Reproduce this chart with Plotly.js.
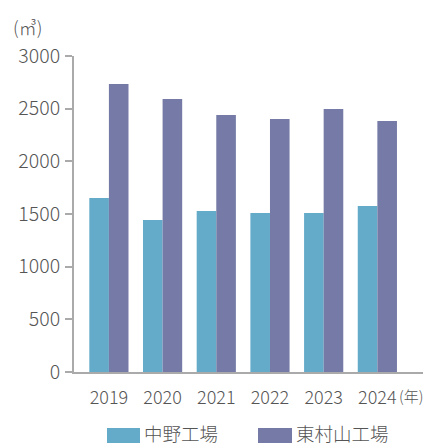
<!DOCTYPE html>
<html><head><meta charset="utf-8">
<script src="https://cdn.plot.ly/plotly-3.0.1.min.js"></script>
<style>body{margin:0;background:#fff}#c{width:425px;height:443px}</style>
</head><body><div id="c"></div>
<script>
const years = ['2019','2020','2021','2022','2023','2024'];
const nakano = [1652, 1443, 1528, 1510, 1510, 1576];
const higashimurayama = [2734, 2592, 2440, 2402, 2497, 2383];
const seriesNames = ['中野工場','東村山工場'];
const colors = ['#64abca','#757aa6'];
const yTicks = [0,500,1000,1500,2000,2500,3000];

const FONT = '"Noto Sans CJK JP", "Noto Sans", sans-serif';
const TXT = '#555';
const WT = 300;
const data = [
  {type:'bar', x: years, y: nakano, name: seriesNames[0], marker:{color:colors[0]}},
  {type:'bar', x: years, y: higashimurayama, name: seriesNames[1], marker:{color:colors[1]}}
];
const W = 425 - 74 - 2, H = 443 - 56 - 71;
const px = v => (v - 74) / W;
const py = v => (443 - 71 - v) / H;
const legendShapes = [
  {type:'rect', xref:'paper', yref:'paper', x0:px(107), x1:px(140), y0:py(428), y1:py(444), fillcolor:colors[0], line:{width:0}},
  {type:'rect', xref:'paper', yref:'paper', x0:px(258), x1:px(292), y0:py(428), y1:py(444), fillcolor:colors[1], line:{width:0}}
];
const layout = {
  width:425, height:443,
  margin:{l:74, r:2, t:56, b:71, autoexpand:false},
  paper_bgcolor:'#fff', plot_bgcolor:'#fff',
  font:{family:FONT, color:TXT, size:17, weight:WT},
  barmode:'group', bargap:0.27, bargroupgap:0,
  showlegend:false,
  xaxis:{type:'category', range:[-0.65,5.85], showline:true, linecolor:'#aaa', linewidth:2,
    ticks:'', tickfont:{size:18, color:TXT, weight:WT}, showgrid:false, zeroline:false, ticklabelstandoff:8},
  yaxis:{range:[0,3000], tickvals:yTicks, showline:true, linecolor:'#aaa', linewidth:2,
    ticks:'outside', ticklen:7, tickwidth:2, tickcolor:'#aaa', showgrid:false, zeroline:false,
    tickfont:{size:19.5, color:TXT, weight:WT}, ticklabelstandoff:1},
  shapes: legendShapes,
  annotations:[
    {text:'(㎥)', xref:'paper', yref:'paper', x:px(11), y:py(12), xanchor:'left', yanchor:'top', showarrow:false, font:{size:18, color:TXT, weight:WT}},
    {text:'(年)', xref:'paper', yref:'paper', x:px(425), y:py(395), xanchor:'right', yanchor:'middle', showarrow:false, font:{size:15, color:TXT, weight:WT}},
    {text:seriesNames[0], xref:'paper', yref:'paper', x:px(142), y:py(433), xanchor:'left', yanchor:'middle', showarrow:false, font:{size:18.5, color:TXT, weight:WT}},
    {text:seriesNames[1], xref:'paper', yref:'paper', x:px(294), y:py(433), xanchor:'left', yanchor:'middle', showarrow:false, font:{size:18.5, color:TXT, weight:WT}}
  ]
};
Plotly.newPlot('c', data, layout, {displayModeBar:false, staticPlot:true});
</script></body></html>
